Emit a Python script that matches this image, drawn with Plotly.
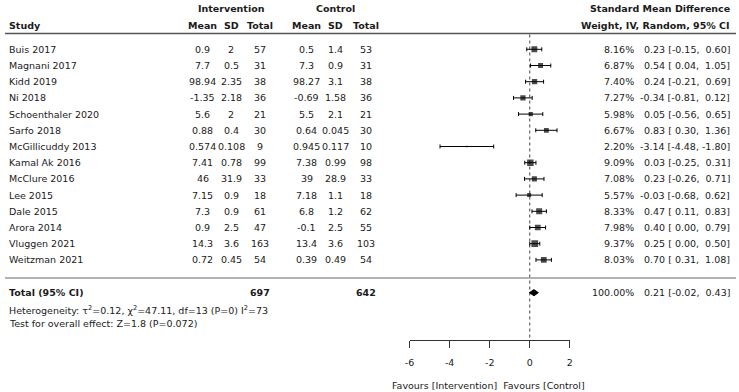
import plotly.graph_objects as go

studies = ["Buis 2017", "Magnani 2017", "Kidd 2019", "Ni 2018", "Schoenthaler 2020",
           "Sarfo 2018", "McGillicuddy 2013", "Kamal Ak 2016", "McClure 2016", "Lee 2015",
           "Dale 2015", "Arora 2014", "Vluggen 2021", "Weitzman 2021"]
int_mean = [0.9, 7.7, 98.94, -1.35, 5.6, 0.88, 0.574, 7.41, 46, 7.15, 7.3, 0.9, 14.3, 0.72]
int_sd = [2, 0.5, 2.35, 2.18, 2, 0.4, 0.108, 0.78, 31.9, 0.9, 0.9, 2.5, 3.6, 0.45]
int_n = [57, 31, 38, 36, 21, 30, 9, 99, 33, 18, 61, 47, 163, 54]
ctl_mean = [0.5, 7.3, 98.27, -0.69, 5.5, 0.64, 0.945, 7.38, 39, 7.18, 6.8, -0.1, 13.4, 0.39]
ctl_sd = [1.4, 0.9, 3.1, 1.58, 2.1, 0.045, 0.117, 0.99, 28.9, 1.1, 1.2, 2.5, 3.6, 0.49]
ctl_n = [53, 31, 38, 36, 21, 30, 10, 98, 33, 18, 62, 55, 103, 54]
weights = [8.16, 6.87, 7.40, 7.27, 5.98, 6.67, 2.20, 9.09, 7.08, 5.57, 8.33, 7.98, 9.37, 8.03]
smd = [0.23, 0.54, 0.24, -0.34, 0.05, 0.83, -3.14, 0.03, 0.23, -0.03, 0.47, 0.40, 0.25, 0.70]
ci_lo = [-0.15, 0.04, -0.21, -0.81, -0.56, 0.30, -4.48, -0.25, -0.26, -0.68, 0.11, 0.00, 0.00, 0.31]
ci_hi = [0.60, 1.05, 0.69, 0.12, 0.65, 1.36, -1.80, 0.31, 0.71, 0.62, 0.83, 0.79, 0.50, 1.08]
total_int, total_ctl = 697, 642
total_w, total_smd, total_lo, total_hi = 100.00, 0.21, -0.02, 0.43
tick_vals = [-6, -4, -2, 0, 2]
tick_text = ["-6", "-4", "-2", "0", "2"]

W, H = 739, 392
Y0, PITCH = 49.3, 16.2
FONT = "DejaVu Sans"
FS = 9.5
TXT = "#1a1a1a"


def row_of_px(px):
    return (px - Y0) / PITCH


def fmt(v):
    return str(v)


def ci_str(e, lo, hi):
    return ("{:.2f} [{:5.2f}, {:5.2f}]".format(e, lo, hi)).replace(" ", "\u00a0")


rows = list(range(len(studies)))
total_row = row_of_px(292.7)

fig = go.Figure()

fig.add_trace(go.Scatter(
    x=smd, y=rows, mode="markers",
    marker=dict(symbol="square", color="black", size=[0.72 * w for w in weights],
                line=dict(width=0)),
    error_x=dict(type="data", symmetric=False,
                 array=[h - e for h, e in zip(ci_hi, smd)],
                 arrayminus=[e - l for e, l in zip(smd, ci_lo)],
                 color="black", thickness=1, width=2),
    showlegend=False, hoverinfo="skip"))

dh = 0.19
fig.add_trace(go.Scatter(
    x=[total_lo, total_smd, total_hi, total_smd, total_lo],
    y=[total_row, total_row - dh, total_row, total_row + dh, total_row],
    mode="lines", fill="toself", fillcolor="black",
    line=dict(color="black", width=1), showlegend=False, hoverinfo="skip"))

ann = []
LEFT = 3
WCOL = 637
CICOL = 734


def add(text, px_x, row, anchor="center", bold=False, size=FS):
    if bold:
        text = "<b>" + text + "</b>"
    ann.append(dict(text=text, x=px_x / W, xref="paper", y=row, yref="y",
                    xanchor=anchor, yanchor="middle", showarrow=False,
                    font=dict(family=FONT, size=size, color=TXT), borderpad=0))


# headers
r_h1 = row_of_px(8)
r_h2 = row_of_px(25)
add("Intervention", 228.5, r_h1, bold=True)
add("Control", 334.5, r_h1, bold=True)
add("Standard Mean Difference", CICOL, r_h1, anchor="right", bold=True)
add("Study", LEFT, r_h2, anchor="left", bold=True)
centers = [200, 228.5, 257.5, 305, 334.5, 364.5]
for label, cx in zip(["Mean", "SD", "Total", "Mean", "SD", "Total"], centers):
    add(label, cx, r_h2, bold=True)
add("Weight, IV, Random, 95% CI", CICOL, r_h2, anchor="right", bold=True)

cols = [int_mean, int_sd, int_n, ctl_mean, ctl_sd, ctl_n]
for i, s in enumerate(studies):
    add(s, LEFT, i, anchor="left")
    for arr, cx in zip(cols, centers):
        add(fmt(arr[i]), cx, i)
    add("{:.2f}%".format(weights[i]), WCOL, i, anchor="right")
    add(ci_str(smd[i], ci_lo[i], ci_hi[i]), CICOL, i, anchor="right")

add("Total (95% CI)", LEFT, total_row, anchor="left", bold=True)
add(str(total_int), centers[2], total_row, bold=True)
add(str(total_ctl), centers[5], total_row, bold=True)
add("{:.2f}%".format(total_w), WCOL, total_row, anchor="right")
add(ci_str(total_smd, total_lo, total_hi), CICOL, total_row, anchor="right")

add("Heterogeneity: \u03c4<sup>2</sup>=0.12, \u03c7<sup>2</sup>=47.11, df=13 (P=0) I<sup>2</sup>=73",
    LEFT, row_of_px(309.5), anchor="left")
add("Test for overall effect: Z=1.8 (P=0.072)", LEFT, row_of_px(323), anchor="left")

add("Favours [Intervention]\u00a0\u00a0Favours [Control]", 489, row_of_px(385.5), anchor="center")

shapes = [
    dict(type="line", xref="paper", yref="y", x0=0, x1=1, y0=row_of_px(33.5), y1=row_of_px(33.5),
         line=dict(color="#555555", width=1.5)),
    dict(type="line", xref="paper", yref="y", x0=0, x1=1, y0=row_of_px(278), y1=row_of_px(278),
         line=dict(color="#999999", width=1.5)),
    dict(type="line", xref="x", yref="y", x0=0, x1=0, y0=row_of_px(34.5), y1=row_of_px(340),
         line=dict(color="#444444", width=1, dash="dot"), layer="below"),
]

fig.update_layout(
    width=W, height=H, margin=dict(l=0, r=0, t=0, b=0),
    paper_bgcolor="white", plot_bgcolor="rgba(0,0,0,0)",
    annotations=ann, shapes=shapes,
    xaxis=dict(domain=[409 / W, 571 / W], range=[-6, 2], anchor="free", position=1 - 340 / H,
               showgrid=False, zeroline=False, showline=True, linecolor="#333333", linewidth=1.3,
               ticks="outside", ticklen=7, tickcolor="#333333", tickwidth=1.3,
               tickvals=tick_vals, ticktext=tick_text, ticklabelstandoff=6,
               tickfont=dict(family=FONT, size=FS, color=TXT), fixedrange=True),
    yaxis=dict(domain=[0, 1], range=[row_of_px(H), row_of_px(0)], visible=False, fixedrange=True),
)

fig.write_html("out.html")
